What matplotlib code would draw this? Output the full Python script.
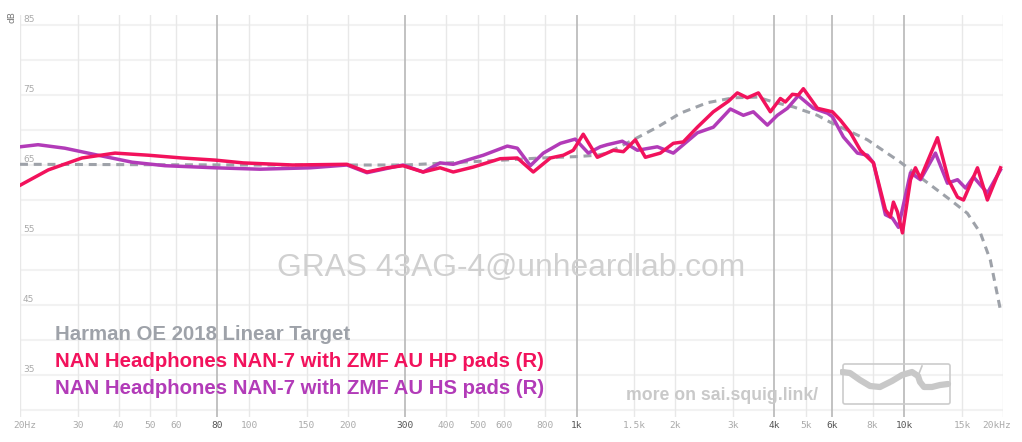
#!/usr/bin/env python3

# Frequency response graph (squig.link style)

import matplotlib
matplotlib.use("Agg")
import matplotlib.pyplot as plt
from matplotlib.patches import FancyBboxPatch
import matplotlib.transforms as mtransforms
import numpy as np

# Data (Hz, dB)
target_freq = [20, 100, 300, 600, 774, 1000, 1156, 1240, 1488, 1762, 2072, 2505,
               3008, 3561, 3981, 4585, 5428, 5946, 7712, 9727, 11432, 13828,
               15568, 17060, 18300, 19640]
target_db = [65.1, 65.0, 65.0, 65.7, 66.0, 66.2, 66.4, 66.7, 68.6, 70.4, 72.4, 73.9,
             74.6, 74.7, 74.0, 73.3, 72.1, 71.1, 68.6, 65.4, 62.9, 60.0,
             58.1, 55.3, 51.4, 44.3]

hp_freq = [20, 24.4, 30.9, 39, 49.2, 62.5, 78.8, 96, 136, 199, 229, 264, 295, 340,
           383, 420, 483, 584, 659, 737, 831, 911, 976, 1047, 1156, 1293, 1388,
           1510, 1620, 1800, 1972, 2115, 2335, 2612, 2903, 3092, 3318, 3585, 3900,
           4184, 4334, 4552, 4748, 4918, 5428, 6032, 6381, 6846, 7344, 8048, 8754,
           9069, 9260, 9526, 9866, 10441, 10810, 11197, 12619, 13632, 14530, 15156,
           16715, 17924, 19651]
hp_db = [62.1, 64.3, 66.0, 66.7, 66.4, 66.0, 65.7, 65.3, 65.0, 65.1, 64.0, 64.6, 64.9, 64.0,
         64.6, 64.0, 64.7, 65.9, 66.0, 64.0, 66.0, 66.4, 67.1, 69.4, 66.1, 67.1, 66.9,
         68.6, 66.1, 66.7, 68.1, 68.3, 70.4, 72.6, 74.1, 75.3, 74.6, 75.3, 72.6,
         74.5, 74.0, 75.1, 75.0, 75.9, 73.1, 72.6, 71.4, 69.6, 67.1, 65.3, 58.6,
         57.6, 59.7, 58.3, 55.3, 62.9, 64.6, 63.1, 68.9, 62.9, 60.4, 60.0,
         64.6, 60.0, 64.6]

hs_freq = [20, 22.7, 27.4, 34.6, 44, 55.4, 78.8, 108, 154, 199, 229, 295, 340, 383,
           420, 519, 614, 659, 722, 791, 892, 990, 1085, 1180, 1240, 1378, 1532,
           1762, 1972, 2335, 2612, 2944, 3226, 3460, 3819, 4096, 4395, 4748, 5276,
           5825, 6032, 6517, 7190, 7715, 8048, 8754, 9197, 9592, 10441, 11197,
           12441, 13536, 14530, 15370, 16250, 17924, 19651]
hs_db = [67.6, 67.9, 67.4, 66.4, 65.4, 64.9, 64.6, 64.4, 64.6, 65.0, 63.9, 65.0, 64.0, 65.3,
         65.1, 66.4, 67.7, 67.4, 64.9, 66.7, 68.1, 68.7, 66.7, 67.6, 67.9, 68.4, 67.1,
         67.6, 66.7, 69.6, 70.4, 73.0, 72.1, 72.6, 70.7, 72.1, 73.1, 74.9, 73.1,
         72.4, 71.9, 69.0, 66.7, 66.4, 65.3, 57.9, 57.4, 56.1, 63.9, 62.9,
         66.7, 62.4, 62.9, 61.7, 63.3, 61.0, 64.3]

x_ticks = [20, 30, 40, 50, 60, 80, 100, 150, 200, 300, 400, 500, 600, 800, 1000,
           1500, 2000, 3000, 4000, 5000, 6000, 8000, 10000, 15000, 20000]
x_labels = ["20Hz", "30", "40", "50", "60", "80", "100", "150", "200", "300", "400",
            "500", "600", "800", "1k", "1.5k", "2k", "3k", "4k", "5k", "6k", "8k",
            "10k", "15k", "20kHz"]
x_major = [80, 300, 1000, 4000, 6000, 10000]
y_labels = [35, 45, 55, 65, 75, 85]

names = ["Harman OE 2018 Linear Target",
         "NAN Headphones NAN-7 with ZMF AU HP pads (R)",
         "NAN Headphones NAN-7 with ZMF AU HS pads (R)"]

TARGET_C = "#9ea2a9"
HP_C = "#f2125c"
HS_C = "#b23bb8"

W, H = 1022, 442
fig = plt.figure(figsize=(W / 100, H / 100), dpi=100)
ax = fig.add_axes([20 / W, 1 - 417 / H, (1003 - 20) / W, (417 - 14.5) / H])
ax.set_xscale("log")
ax.set_xlim(20, 20000)
ax.set_ylim(29, 86.5)
for s in ax.spines.values():
    s.set_visible(False)

# grid
for v in range(30, 90, 5):
    ax.axhline(v, color="#f2f2f2", lw=1.5, zorder=0)
for f in x_ticks:
    if f in x_major:
        ax.axvline(f, color="#b8b8b8", lw=1.2, zorder=0)
    else:
        ax.axvline(f, color="#e8e8e8", lw=1.0, zorder=0)

ax.set_xticks(x_ticks)
ax.set_xticklabels(x_labels, family="DejaVu Sans Mono", fontsize=6.8)
ax.minorticks_off()
ax.tick_params(axis="x", length=0, pad=3)
labs = ax.get_xticklabels()
for f, lab in zip(x_ticks, labs):
    lab.set_color("#555555" if f in x_major else "#aaaaaa")
labs[0].set_transform(labs[0].get_transform()
                      + mtransforms.ScaledTranslation(5 / 100, 0, fig.dpi_scale_trans))
labs[-1].set_transform(labs[-1].get_transform()
                       + mtransforms.ScaledTranslation(-6 / 100, 0, fig.dpi_scale_trans))
ax.set_yticks([])

ytrans = mtransforms.blended_transform_factory(ax.transAxes, ax.transData)
for v in y_labels:
    ax.text(0.003, v + 0.15, str(v), transform=ytrans, fontsize=6.5,
            color="#aaaaaa", va="bottom", ha="left", family="DejaVu Sans")
fig.text(12 / W, 1 - 17 / H, "dB", rotation=90, fontsize=6.5, color="#777777",
         ha="center", va="center")

# watermark
ax.text(0.5, 1 - (268 - 14.5) / (417 - 14.5), "GRAS 43AG-4@unheardlab.com",
        transform=ax.transAxes, ha="center", va="center", fontsize=22.9,
        color="#d0d0d0", family="Liberation Sans", zorder=1)
fig.text(722 / W, 1 - 395 / H, "more on sai.squig.link/", ha="center", va="center",
         fontsize=12.7, color="#c9c9c9", weight="bold", family="Liberation Sans")

# curves
ax.plot(target_freq, target_db, color=TARGET_C, lw=2.2, ls=(0, (2.6, 1.9)),
        zorder=3, solid_capstyle="butt")
ax.plot(hs_freq, hs_db, color=HS_C, lw=2.5, zorder=4, solid_joinstyle="round")
ax.plot(hp_freq, hp_db, color=HP_C, lw=2.5, zorder=5, solid_joinstyle="round")

# legend text
for i, (name, col) in enumerate(zip(names, [TARGET_C, HP_C, HS_C])):
    fig.text(55 / W, 1 - (334 + i * 27.5) / H, name, color=col, fontsize=14.7,
             weight="bold", family="Liberation Sans", ha="left", va="center")

# logo
lax = fig.add_axes([840 / W, 1 - 408 / H, 114 / W, 48 / H])
lax.set_xlim(0, 114)
lax.set_ylim(48, 0)
lax.axis("off")
lax.add_patch(FancyBboxPatch((3, 4), 107, 40, boxstyle="round,pad=0,rounding_size=2",
                             fill=False, ec="#cccccc", lw=1.2))
sq_x = [2, 10, 20, 30, 40, 52, 62, 72, 78, 80, 84, 92, 100, 108]
sq_y = [12, 13, 20, 26, 27, 21, 15, 12, 16, 22, 27, 27, 25, 24]
lax.plot(sq_x, sq_y, color="#c8c8c8", lw=4.5, solid_capstyle="round")
lax.plot([78, 82], [16, 6], color="#c8c8c8", lw=1.2)

fig.savefig("out.png", dpi=100)
